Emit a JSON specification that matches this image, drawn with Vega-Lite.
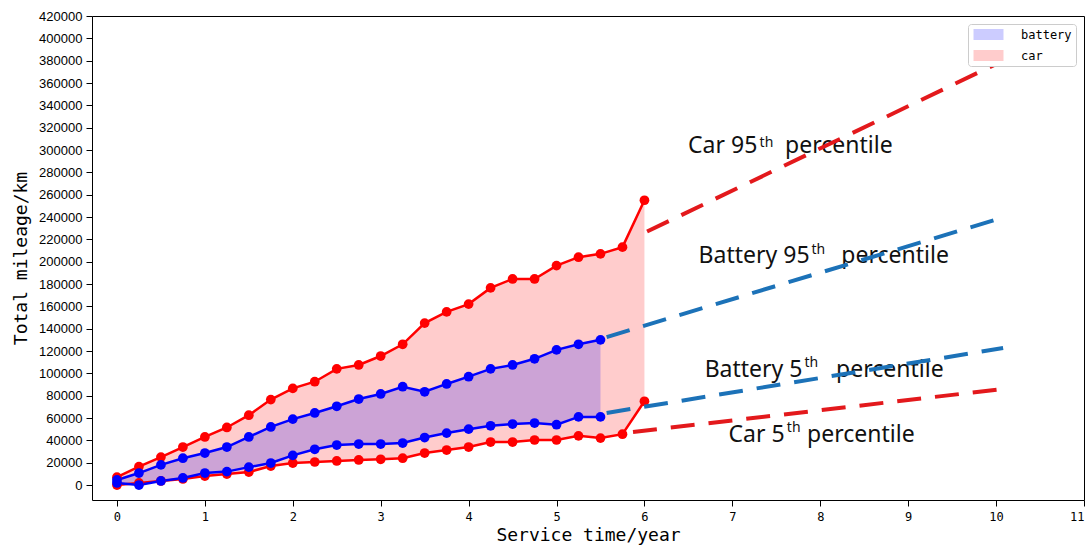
{
  "$schema": "https://vega.github.io/schema/vega-lite/v6.json",
  "width": 992,
  "height": 484,
  "autosize": {"type": "none"},
  "padding": {"left": 92, "top": 16, "right": 2, "bottom": 50},
  "background": "white",
  "config": {
    "view": {"stroke": "black", "strokeWidth": 1},
    "axis": {"grid": false, "domain": false, "tickColor": "black", "tickSize": 6, "labelColor": "black", "titleColor": "black", "titleFontWeight": "normal"},
    "axisY": {"labelOverlap": false}
  },
  "datasets": {
    "pts": [
      {"kind": "car", "t": 0, "lo": 0, "hi": 7000},
      {"kind": "car", "t": 0.25, "lo": 1800, "hi": 16500},
      {"kind": "car", "t": 0.5, "lo": 3600, "hi": 25000},
      {"kind": "car", "t": 0.75, "lo": 5400, "hi": 34000},
      {"kind": "car", "t": 1.0, "lo": 8000, "hi": 43000},
      {"kind": "car", "t": 1.25, "lo": 9800, "hi": 51500},
      {"kind": "car", "t": 1.5, "lo": 11600, "hi": 62500},
      {"kind": "car", "t": 1.75, "lo": 17000, "hi": 76500},
      {"kind": "car", "t": 2.0, "lo": 19700, "hi": 86500},
      {"kind": "car", "t": 2.25, "lo": 20600, "hi": 92500},
      {"kind": "car", "t": 2.5, "lo": 21500, "hi": 104000},
      {"kind": "car", "t": 2.75, "lo": 22400, "hi": 107500},
      {"kind": "car", "t": 3.0, "lo": 23000, "hi": 115500},
      {"kind": "car", "t": 3.25, "lo": 24000, "hi": 126000},
      {"kind": "car", "t": 3.5, "lo": 28600, "hi": 145000},
      {"kind": "car", "t": 3.75, "lo": 31300, "hi": 155000},
      {"kind": "car", "t": 4.0, "lo": 34000, "hi": 162000},
      {"kind": "car", "t": 4.25, "lo": 38500, "hi": 176500},
      {"kind": "car", "t": 4.5, "lo": 38500, "hi": 184500},
      {"kind": "car", "t": 4.75, "lo": 40300, "hi": 184500},
      {"kind": "car", "t": 5.0, "lo": 40300, "hi": 196500},
      {"kind": "car", "t": 5.25, "lo": 44000, "hi": 204000},
      {"kind": "car", "t": 5.5, "lo": 42000, "hi": 207000},
      {"kind": "car", "t": 5.75, "lo": 45500, "hi": 213000},
      {"kind": "car", "t": 6.0, "lo": 75000, "hi": 255000},
      {"kind": "battery", "t": 0, "lo": 1800, "hi": 4500},
      {"kind": "battery", "t": 0.25, "lo": 0, "hi": 10700},
      {"kind": "battery", "t": 0.5, "lo": 3600, "hi": 18000},
      {"kind": "battery", "t": 0.75, "lo": 6300, "hi": 24000},
      {"kind": "battery", "t": 1.0, "lo": 10700, "hi": 28600},
      {"kind": "battery", "t": 1.25, "lo": 12000, "hi": 34000},
      {"kind": "battery", "t": 1.5, "lo": 16000, "hi": 43000},
      {"kind": "battery", "t": 1.75, "lo": 19700, "hi": 52000},
      {"kind": "battery", "t": 2.0, "lo": 26500, "hi": 59000},
      {"kind": "battery", "t": 2.25, "lo": 32000, "hi": 64500},
      {"kind": "battery", "t": 2.5, "lo": 35800, "hi": 70500},
      {"kind": "battery", "t": 2.75, "lo": 36700, "hi": 77000},
      {"kind": "battery", "t": 3.0, "lo": 36700, "hi": 81500},
      {"kind": "battery", "t": 3.25, "lo": 37600, "hi": 88000},
      {"kind": "battery", "t": 3.5, "lo": 42500, "hi": 83500},
      {"kind": "battery", "t": 3.75, "lo": 46500, "hi": 90500},
      {"kind": "battery", "t": 4.0, "lo": 50000, "hi": 97000},
      {"kind": "battery", "t": 4.25, "lo": 53000, "hi": 104000},
      {"kind": "battery", "t": 4.5, "lo": 54600, "hi": 107500},
      {"kind": "battery", "t": 4.75, "lo": 55500, "hi": 113000},
      {"kind": "battery", "t": 5.0, "lo": 54000, "hi": 121000},
      {"kind": "battery", "t": 5.25, "lo": 61000, "hi": 126000},
      {"kind": "battery", "t": 5.5, "lo": 61000, "hi": 130000}
    ],
    "ext": [
      {"name": "car95", "kind": "car", "t": 6.03, "v": 227000},
      {"name": "car95", "kind": "car", "t": 10.08, "v": 380000},
      {"name": "bat95", "kind": "battery", "t": 5.57, "v": 132500},
      {"name": "bat95", "kind": "battery", "t": 10.1, "v": 240000},
      {"name": "bat5", "kind": "battery", "t": 5.57, "v": 64500},
      {"name": "bat5", "kind": "battery", "t": 10.08, "v": 122700},
      {"name": "car5", "kind": "car", "t": 5.87, "v": 47500},
      {"name": "car5", "kind": "car", "t": 10.08, "v": 86000}
    ],
    "labels": [
      {"part": "num", "s": "Car 95", "t": 6.89, "v": 297300},
      {"part": "sup", "s": "th", "t": 7.31, "v": 302500},
      {"part": "main", "s": "percentile", "t": 7.6, "v": 297300},
      {"part": "num", "s": "Battery 95", "t": 7.247, "v": 198800},
      {"part": "sup", "s": "th", "t": 7.9, "v": 207000},
      {"part": "main", "s": "percentile", "t": 8.24, "v": 198800},
      {"part": "num", "s": "Battery 5", "t": 7.241, "v": 96700},
      {"part": "sup", "s": "th", "t": 7.82, "v": 105500},
      {"part": "main", "s": "percentile", "t": 8.18, "v": 96700},
      {"part": "num", "s": "Car 5", "t": 7.275, "v": 38500},
      {"part": "sup", "s": "th", "t": 7.62, "v": 47300},
      {"part": "main", "s": "percentile", "t": 7.85, "v": 38500}
    ]
  },
  "encoding": {
    "x": {"field": "t", "type": "quantitative",
      "scale": {"domain": [-0.284, 11], "nice": false, "zero": false},
      "axis": {"values": [0,1,2,3,4,5,6,7,8,9,10,11], "title": "Service time/year",
        "labelFont": "DejaVu Sans Mono", "labelFontSize": 12, "labelPadding": 5,
        "titleFont": "DejaVu Sans Mono", "titleFontSize": 18, "titlePadding": 4}}
  },
  "layer": [
    {
      "data": {"name": "pts"},
      "mark": {"type": "area", "opacity": 0.2},
      "encoding": {
        "y": {"field": "lo", "type": "quantitative",
          "scale": {"domain": [-13430, 420000], "nice": false, "zero": false},
          "axis": {"values": [0,20000,40000,60000,80000,100000,120000,140000,160000,180000,200000,220000,240000,260000,280000,300000,320000,340000,360000,380000,400000,420000],
            "title": "Total mileage/km", "format": "d", "labelOverlap": false,
            "labelFont": "Liberation Sans", "labelFontSize": 13, "labelPadding": 4,
            "titleFont": "DejaVu Sans Mono", "titleFontSize": 18, "titlePadding": 8}},
        "y2": {"field": "hi"},
        "color": {"field": "kind", "type": "nominal",
          "scale": {"domain": ["battery", "car"], "range": ["#0000ff", "#ff0000"]},
          "legend": {"title": null, "orient": "none", "legendX": 876, "legendY": 8,
            "symbolType": "M-2.45,-0.9H2.45V0.9H-2.45Z", "symbolSize": 150, "symbolOpacity": 0.2,
            "symbolOffset": 10,
            "symbolStrokeWidth": 0, "labelFont": "DejaVu Sans Mono", "labelFontSize": 12,
            "labelOffset": 26, "rowPadding": 8, "padding": 4, "strokeColor": "#cccccc",
            "cornerRadius": 3, "fillColor": "white", "labelColor": "black"}},
        "detail": {"field": "kind"}
      }
    },
    {
      "data": {"name": "pts"},
      "transform": [{"fold": ["lo", "hi"], "as": ["bound", "v"]}],
      "mark": {"type": "line", "strokeWidth": 2.5},
      "encoding": {
        "y": {"field": "v", "type": "quantitative",
          "axis": {"values": [0,20000,40000,60000,80000,100000,120000,140000,160000,180000,200000,220000,240000,260000,280000,300000,320000,340000,360000,380000,400000,420000],
            "title": "Total mileage/km", "format": "d", "labelOverlap": false,
            "labelFont": "Liberation Sans", "labelFontSize": 13, "labelPadding": 4,
            "titleFont": "DejaVu Sans Mono", "titleFontSize": 18, "titlePadding": 8}},
        "stroke": {"field": "kind", "type": "nominal",
          "scale": {"domain": ["battery", "car"], "range": ["#0000ff", "#ff0000"]}, "legend": null},
        "detail": {"field": "bound"}
      }
    },
    {
      "data": {"name": "pts"},
      "transform": [{"fold": ["lo", "hi"], "as": ["bound", "v"]}],
      "mark": {"type": "point", "filled": true, "opacity": 1, "size": 95, "shape": "circle"},
      "encoding": {
        "y": {"field": "v", "type": "quantitative",
          "axis": {"values": [0,20000,40000,60000,80000,100000,120000,140000,160000,180000,200000,220000,240000,260000,280000,300000,320000,340000,360000,380000,400000,420000],
            "title": "Total mileage/km", "format": "d", "labelOverlap": false,
            "labelFont": "Liberation Sans", "labelFontSize": 13, "labelPadding": 4,
            "titleFont": "DejaVu Sans Mono", "titleFontSize": 18, "titlePadding": 8}},
        "fill": {"field": "kind", "type": "nominal",
          "scale": {"domain": ["battery", "car"], "range": ["#0000ff", "#ff0000"]}, "legend": null}
      }
    },
    {
      "data": {"name": "labels"},
      "transform": [{"filter": "datum.part === 'num'"}],
      "mark": {"type": "text", "align": "center", "baseline": "alphabetic", "font": "Noto Sans", "fontSize": 23, "color": "#111111"},
      "encoding": {
        "y": {"field": "v", "type": "quantitative",
          "axis": {"values": [0,20000,40000,60000,80000,100000,120000,140000,160000,180000,200000,220000,240000,260000,280000,300000,320000,340000,360000,380000,400000,420000],
            "title": "Total mileage/km", "format": "d", "labelOverlap": false,
            "labelFont": "Liberation Sans", "labelFontSize": 13, "labelPadding": 4,
            "titleFont": "DejaVu Sans Mono", "titleFontSize": 18, "titlePadding": 8}},
        "text": {"field": "s"}
      }
    },
    {
      "data": {"name": "labels"},
      "transform": [{"filter": "datum.part === 'main'"}],
      "mark": {"type": "text", "align": "left", "baseline": "alphabetic", "font": "Noto Sans", "fontSize": 23, "color": "#111111"},
      "encoding": {
        "y": {"field": "v", "type": "quantitative",
          "axis": {"values": [0,20000,40000,60000,80000,100000,120000,140000,160000,180000,200000,220000,240000,260000,280000,300000,320000,340000,360000,380000,400000,420000],
            "title": "Total mileage/km", "format": "d", "labelOverlap": false,
            "labelFont": "Liberation Sans", "labelFontSize": 13, "labelPadding": 4,
            "titleFont": "DejaVu Sans Mono", "titleFontSize": 18, "titlePadding": 8}},
        "text": {"field": "s"}
      }
    },
    {
      "data": {"name": "labels"},
      "transform": [{"filter": "datum.part === 'sup'"}],
      "mark": {"type": "text", "align": "left", "baseline": "alphabetic", "font": "Noto Sans", "fontSize": 14, "color": "#111111"},
      "encoding": {
        "y": {"field": "v", "type": "quantitative",
          "axis": {"values": [0,20000,40000,60000,80000,100000,120000,140000,160000,180000,200000,220000,240000,260000,280000,300000,320000,340000,360000,380000,400000,420000],
            "title": "Total mileage/km", "format": "d", "labelOverlap": false,
            "labelFont": "Liberation Sans", "labelFontSize": 13, "labelPadding": 4,
            "titleFont": "DejaVu Sans Mono", "titleFontSize": 18, "titlePadding": 8}},
        "text": {"field": "s"}
      }
    },
    {
      "data": {"name": "ext"},
      "transform": [{"filter": "datum.kind === 'car'"}],
      "mark": {"type": "line", "strokeWidth": 4, "strokeDash": [24, 14], "color": "#e3191c"},
      "encoding": {
        "y": {"field": "v", "type": "quantitative",
          "axis": {"values": [0,20000,40000,60000,80000,100000,120000,140000,160000,180000,200000,220000,240000,260000,280000,300000,320000,340000,360000,380000,400000,420000],
            "title": "Total mileage/km", "format": "d", "labelOverlap": false,
            "labelFont": "Liberation Sans", "labelFontSize": 13, "labelPadding": 4,
            "titleFont": "DejaVu Sans Mono", "titleFontSize": 18, "titlePadding": 8}},
        "detail": {"field": "name"}
      }
    },
    {
      "data": {"name": "ext"},
      "transform": [{"filter": "datum.kind === 'battery'"}],
      "mark": {"type": "line", "strokeWidth": 4, "strokeDash": [24, 14], "color": "#1c72b8"},
      "encoding": {
        "y": {"field": "v", "type": "quantitative",
          "axis": {"values": [0,20000,40000,60000,80000,100000,120000,140000,160000,180000,200000,220000,240000,260000,280000,300000,320000,340000,360000,380000,400000,420000],
            "title": "Total mileage/km", "format": "d", "labelOverlap": false,
            "labelFont": "Liberation Sans", "labelFontSize": 13, "labelPadding": 4,
            "titleFont": "DejaVu Sans Mono", "titleFontSize": 18, "titlePadding": 8}},
        "detail": {"field": "name"}
      }
    }
  ]
}
